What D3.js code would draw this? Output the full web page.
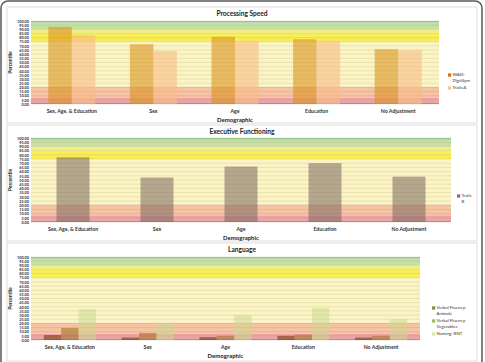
<!DOCTYPE html>
<html><head><meta charset="utf-8">
<script src="https://cdn.jsdelivr.net/npm/d3@7"></script>
<style>body{margin:0;background:#fff}svg{display:block}</style>
</head><body>
<svg id="c" width="485" height="362"></svg>
<script>
// ---- DATA ----
const categories = ["Sex, Age, & Education", "Sex", "Age", "Education", "No Adjustment"];
const yTicks = [0,5,10,15,20,25,30,35,40,45,50,55,60,65,70,75,80,85,90,95,100];

const psSeries = ["WAIS-DigitSym", "Trails A"];
const psWais   = [93, 72, 81, 78, 66];
const psTrailsA= [83, 64, 76, 76, 65];

const efSeries = ["Trails B"];
const efTrailsB= [77, 53, 66, 70, 54];

const langSeries = ["Verbal Fluency: Animals", "Verbal Fluency: Vegetables", "Naming: BNT"];
const langAnimals    = [6, 3, 3.5, 5, 3];
const langVegetables = [14.5, 8.5, 5, 6.5, 5];
const langBNT        = [37, 20, 30, 38.5, 25];

const bandFrom  = [0, 2, 8, 21, 75, 85, 90, 98];
const bandTo    = [2, 8, 21, 75, 85, 90, 98, 100];

// ---- STYLE / LAYOUT ----
const bandColors = ["#e47c7e", "#eca4a8", "#f6c3a3", "#fbf5c6", "#f7ee58", "#f1ee86", "#c6e1a6", "#97cd95"];
const font = "Lato, 'Open Sans', sans-serif";
const svg = d3.select("#c");

svg.append("rect").attr("x",1).attr("y",1).attr("width",481).attr("height",372)
  .attr("rx",7).attr("fill","#fff").attr("stroke","#5a5a5a").attr("stroke-width",1.5);

const panels = [
  {title:"Processing Speed", box:[7,7,470,116], x0:31, x1:439, yTop:21, yBot:104, pad:0.424,
   names:psSeries, values:[psWais, psTrailsA],
   fills:["#d9911c","#f9bd86"], ops:[0.58,0.6], legCol:["#e46c0a","#fac090"],
   legLines:[["WAIS-","DigitSym"],["Trails A"]], legX:448, legY:[75,88],
   labY:112, demY:120, titleY:14},
  {title:"Executive Functioning", box:[7,125,470,116], x0:31, x1:451, yTop:138, yBot:222, pad:0.607,
   names:efSeries, values:[efTrailsB],
   fills:["#7a665e"], ops:[0.55], legCol:["#8064a2"],
   legLines:[["Trails","B"]], legX:457, legY:[196],
   labY:230, demY:238, titleY:132},
  {title:"Language", box:[7,243,470,118], x0:31, x1:420, yTop:257, yBot:340, pad:0.33,
   names:langSeries, values:[langAnimals, langVegetables, langBNT],
   fills:["#7a3c10","#9a7020","#c9d98e"], ops:[0.6,0.55,0.55], legCol:["#77933c","#9bbb59","#d7e4bd"],
   legLines:[["Verbal Fluency:","Animals"],["Verbal Fluency:","Vegetables"],["Naming: BNT"]], legX:432, legY:[308,321,334],
   labY:348, demY:356, titleY:250}
];

panels.forEach(p => {
  const g = svg.append("g");
  g.append("rect").attr("x",p.box[0]).attr("y",p.box[1]).attr("width",p.box[2]).attr("height",p.box[3])
    .attr("fill","#fff").attr("stroke","#d4d4d4").attr("stroke-width",0.8);

  const y = d3.scaleLinear().domain([0,100]).range([p.yBot, p.yTop]);
  const x = d3.scaleBand().domain(categories).range([p.x0, p.x1])
    .paddingInner(p.pad).paddingOuter(p.pad/2);
  const xs = d3.scaleBand().domain(p.names).range([0, x.bandwidth()]);

  // bands
  g.selectAll(".band").data(bandFrom).enter().append("rect")
    .attr("x", p.x0).attr("width", p.x1 - p.x0)
    .attr("y", (d,i) => y(bandTo[i])).attr("height", (d,i) => y(d) - y(bandTo[i]))
    .attr("fill", (d,i) => bandColors[i]);

  // gridlines
  g.selectAll(".grid").data(yTicks).enter().append("line")
    .attr("x1", p.x0).attr("x2", p.x1).attr("y1", d => y(d)).attr("y2", d => y(d))
    .attr("stroke", "rgba(150,130,60,0.28)").attr("stroke-width", 0.6);

  // bars
  p.names.forEach((name, si) => {
    g.selectAll(".bar"+si).data(p.values[si]).enter().append("rect")
      .attr("x", (d,i) => x(categories[i]) + xs(name))
      .attr("width", xs.bandwidth())
      .attr("y", d => y(d)).attr("height", d => y(0) - y(d))
      .attr("fill", p.fills[si]).attr("fill-opacity", p.ops[si]);
  });

  // y axis
  const ax = g.append("g").attr("transform", `translate(${p.x0},0)`)
    .call(d3.axisLeft(y).tickValues(yTicks).tickFormat(d3.format(".2f")).tickSize(0).tickPadding(2));
  ax.select(".domain").remove();
  ax.selectAll("text").attr("font-size", 3.8).attr("font-family", font).attr("font-weight","bold").attr("fill","#333");

  g.append("text").attr("transform", `translate(11,${(p.yTop+p.yBot)/2}) rotate(-90)`)
    .attr("text-anchor","middle").attr("dominant-baseline","middle")
    .attr("font-size",5).attr("font-weight","bold").attr("font-family",font).attr("fill","#222")
    .text("Percentile");

  // x labels
  g.selectAll(".xl").data(categories).enter().append("text")
    .attr("x", d => x(d) + x.bandwidth()/2).attr("y", p.labY)
    .attr("text-anchor","middle").attr("dominant-baseline","middle")
    .attr("font-size",5.2).attr("font-weight","bold").attr("font-family",font).attr("fill","#333")
    .text(d => d);

  g.append("text").attr("x",(p.x0+p.x1)/2).attr("y",p.demY)
    .attr("text-anchor","middle").attr("dominant-baseline","middle")
    .attr("font-size",6).attr("font-weight","bold").attr("font-family",font).attr("fill","#222")
    .text("Demographic");

  g.append("text").attr("x",242).attr("y",p.titleY)
    .attr("text-anchor","middle").attr("dominant-baseline","middle")
    .attr("font-size",6.6).attr("font-weight","bold").attr("font-family",font).attr("fill","#222")
    .text(p.title);

  // legend
  p.names.forEach((name, si) => {
    const ly = p.legY[si];
    g.append("rect").attr("x",p.legX).attr("y",ly-1.6).attr("width",3.2).attr("height",3.2)
      .attr("fill",p.legCol[si]);
    p.legLines[si].forEach((ln, li) => {
      g.append("text").attr("x",p.legX+4.5).attr("y",ly + li*6.2)
        .attr("dominant-baseline","middle")
        .attr("font-size",4.4).attr("font-family",font).attr("fill","#333")
        .text(ln);
    });
  });
});
</script>
</body></html>
